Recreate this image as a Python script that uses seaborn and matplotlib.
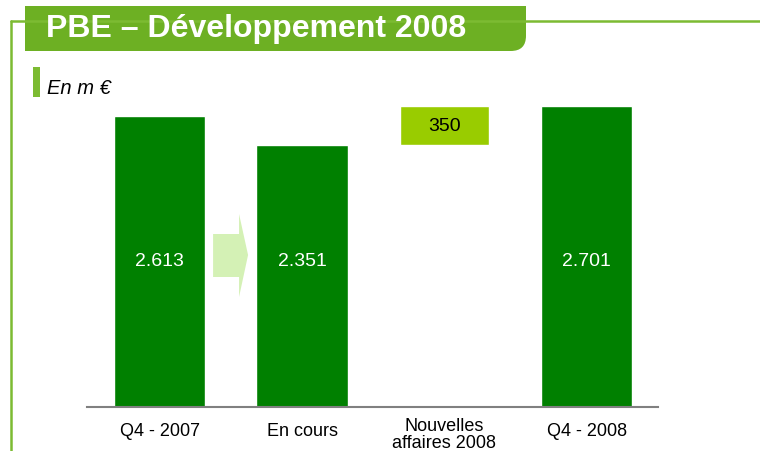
import matplotlib
matplotlib.use("Agg")
import matplotlib.pyplot as plt
import matplotlib.transforms as mtrans
import seaborn as sns
import pandas as pd
from matplotlib.patches import Polygon, Rectangle, FancyBboxPatch
from matplotlib.lines import Line2D

categories = ["Q4 - 2007", "En cours", "Nouvelles\naffaires 2008", "Q4 - 2008"]
totals = [2613, 2351, 0, 2701]
value_labels = ["2.613", "2.351", "", "2.701"]
new_business = 350
new_business_label = "350"
title = "PBE – Développement 2008"
unit = "En m €"

sns.set_theme(style="white")
plt.rcParams["font.family"] = ["Liberation Sans", "DejaVu Sans"]

W, H = 760, 452
fig = plt.figure(figsize=(7.6, 4.52), dpi=100)

# axes placement (pixel based)
base_y = 408
top_y = 100
left_x, right_x = 87, 658
ax = fig.add_axes([left_x / W, (H - base_y) / H, (right_x - left_x) / W, (base_y - top_y) / H])
px_per_unit = 301 / 2701
ymax = (base_y - top_y) / px_per_unit

df = pd.DataFrame({"cat": categories, "val": totals})
sns.barplot(data=df, x="cat", y="val", color="#008000", saturation=1, width=0.64, ax=ax)
# floating bar for new business
ax.bar(2, new_business, bottom=totals[1], width=0.62, color="#99CC00", zorder=3)

ax.set_xlim(-0.51, 3.5)
ax.set_ylim(0, ymax)
ax.set_xlabel("")
ax.set_ylabel("")
ax.set_yticks([])
for s in ["top", "right", "left"]:
    ax.spines[s].set_visible(False)
ax.spines["bottom"].set_color("#808080")
ax.spines["bottom"].set_linewidth(1.5)
ax.tick_params(axis="x", length=0, pad=7)
for lbl in ax.get_xticklabels():
    lbl.set_fontsize(13)
    lbl.set_color("#000000")
    lbl.set_linespacing(1.0)
    if "\n" not in lbl.get_text():
        lbl.set_transform(lbl.get_transform() + mtrans.ScaledTranslation(0, -5 / 100, fig.dpi_scale_trans))
ax.set_facecolor("none")

label_y = (base_y - 261) / px_per_unit
for i, t in enumerate(value_labels):
    if t:
        ax.text(i, label_y, t, ha="center", va="center", color="white", fontsize=14)
ax.text(2, totals[1] + new_business / 2, new_business_label, ha="center", va="center",
        color="black", fontsize=14, zorder=4)

# arrow between first two bars
def yv(py):
    return (base_y - py) / px_per_unit
def xv(px):
    return (px - 159.5) / 142.5
arrow = Polygon([(xv(213), yv(235)), (xv(239), yv(235)), (xv(239), yv(215)), (xv(248), yv(256)),
                 (xv(239), yv(298)), (xv(239), yv(278)), (xv(213), yv(278))],
                closed=True, facecolor="#D4F1B5", edgecolor="none", zorder=2)
ax.add_patch(arrow)

# decorative frame and header (figure pixel coords)
def fx(px):
    return px / W
def fy(py):
    return 1 - py / H

frame_col = "#7CBB32"
fig.add_artist(Line2D([fx(11), fx(760)], [fy(21.5), fy(21.5)], color=frame_col, lw=1.8))
fig.add_artist(Line2D([fx(11), fx(11)], [fy(21.5), fy(452)], color=frame_col, lw=1.8))

box_col = "#6DB023"
fb = FancyBboxPatch((fx(25), fy(52)), fx(526) - fx(25), fy(7) - fy(52),
                    boxstyle="round,pad=0,rounding_size=0.02", transform=fig.transFigure,
                    facecolor=box_col, edgecolor="none", mutation_aspect=W / H)
fig.add_artist(fb)
fig.add_artist(Rectangle((fx(25), fy(52)), fx(500) - fx(25), fy(7) - fy(52),
                         transform=fig.transFigure, facecolor=box_col, edgecolor="none"))
fig.add_artist(Rectangle((fx(25), fy(30)), fx(526) - fx(25), fy(7) - fy(30),
                         transform=fig.transFigure, facecolor=box_col, edgecolor="none"))
fig.text(fx(46), fy(29), title, color="white", fontsize=23, fontweight="bold",
         ha="left", va="center")

fig.add_artist(Rectangle((fx(33), fy(98)), fx(40) - fx(33), fy(68) - fy(98),
                         transform=fig.transFigure, facecolor="#7CBB32", edgecolor="none"))
fig.text(fx(47), fy(89), unit, color="black", fontsize=14.5, fontstyle="italic",
         ha="left", va="center")

fig.savefig("out.png", dpi=100)
